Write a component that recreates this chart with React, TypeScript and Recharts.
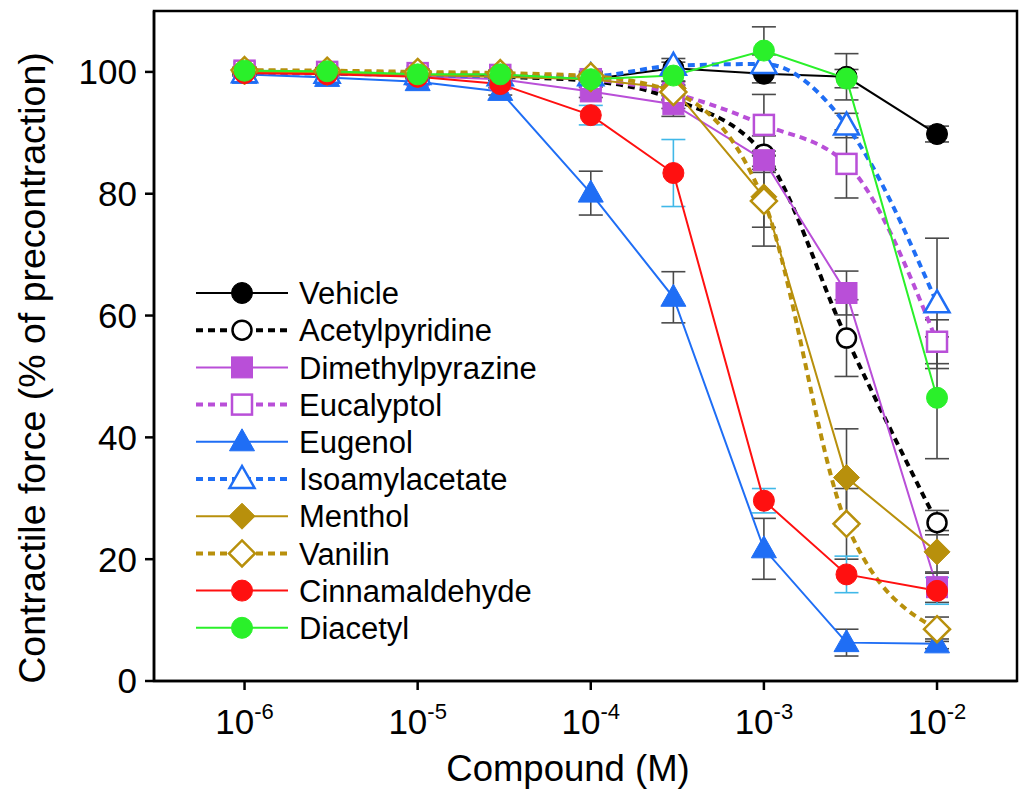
import { LineChart, Line, XAxis, YAxis, ErrorBar, Legend, ReferenceArea } from 'recharts'

// concentrations (M)
const concentrations = [1e-6, 3e-6, 1e-5, 3e-5, 1e-4, 3e-4, 1e-3, 3e-3, 1e-2]
const xTicks = [1e-6, 1e-5, 1e-4, 1e-3, 1e-2]
const yTicks = [0, 20, 40, 60, 80, 100]

// % of precontraction, mean and error per compound
const vehicle = [100, 99.8, 99.5, 99.3, 98.8, 100.6, 99.7, 99.2, 89.8]
const vehicleErr = [0.5, 0.5, 0.6, 0.6, 0.8, 1, 1.5, 3.8, 1.3]
const acetylpyridine = [100, 99.8, 99.6, 99.2, 98.5, 95.5, 86.5, 56.3, 26]
const acetylpyridineErr = [0.5, 0.5, 0.5, 0.6, 1, 1.5, 3, 6.3, 2]
const dimethylpyrazine = [100, 99.8, 99.3, 98.8, 96.8, 94.7, 85.5, 63.7, 15.4]
const dimethylpyrazineErr = [0.5, 0.5, 0.6, 0.8, 1, 2, 1.5, 3.6, 2.5]
const eucalyptol = [100.2, 100, 99.8, 99.5, 98.8, 96.5, 91.3, 84.9, 55.7]
const eucalyptolErr = [0.5, 0.5, 0.5, 0.6, 0.8, 1.2, 5, 5.6, 3.6]
const eugenol = [99.6, 99.1, 98.4, 96.8, 80.1, 63.0, 21.7, 6.3, 6.1]
const eugenolErr = [0.3, 0.4, 0.5, 0.6, 3.6, 4.2, 5, 2.2, 0.8]
const isoamylacetate = [99.8, 99.7, 99.5, 99.3, 99.3, 101.0, 101.3, 91.2, 62.0]
const isoamylacetateErr = [0.5, 0.5, 0.5, 0.6, 0.8, 1.2, 1.5, 2, 10.7]
const menthol = [100, 99.9, 99.5, 99.2, 98.8, 97.3, 79.5, 33.4, 21.2]
const mentholErr = [0.5, 0.5, 0.5, 0.6, 0.8, 1.2, 5, 8, 3.5]
const vanilin = [100.3, 100.2, 100, 99.8, 99.3, 96.7, 78.8, 25.8, 8.5]
const vanilinErr = [0.5, 0.5, 0.5, 0.5, 0.6, 1.2, 7.4, 5.8, 2]
const cinnamaldehyde = [99.8, 99.6, 99.2, 98.0, 92.9, 83.4, 29.6, 17.5, 14.8]
const cinnamaldehydeErr = [0.5, 0.5, 0.6, 0.8, 1.6, 5.5, 2, 3, 2.2]
const diacetyl = [100.2, 100.1, 99.6, 99.6, 98.8, 99.4, 103.5, 98.9, 46.5]
const diacetylErr = [0.5, 0.5, 0.5, 0.6, 0.8, 1, 3.9, 1.5, 10]

type Shape = 'circle' | 'square' | 'triangle' | 'diamond'

const SERIES: {
  key: string; name: string; color: string; shape: Shape; open: boolean; dashed: boolean
  values: number[]; err: number[]; errColor: string
}[] = [
  { key: 'vehicle', name: 'Vehicle', color: '#000000', shape: 'circle', open: false, dashed: false, values: vehicle, err: vehicleErr, errColor: '#4a4a4a' },
  { key: 'acetyl', name: 'Acetylpyridine', color: '#000000', shape: 'circle', open: true, dashed: true, values: acetylpyridine, err: acetylpyridineErr, errColor: '#4a4a4a' },
  { key: 'dimethyl', name: 'Dimethylpyrazine', color: '#b94fd8', shape: 'square', open: false, dashed: false, values: dimethylpyrazine, err: dimethylpyrazineErr, errColor: '#4a4a4a' },
  { key: 'eucalyptol', name: 'Eucalyptol', color: '#b94fd8', shape: 'square', open: true, dashed: true, values: eucalyptol, err: eucalyptolErr, errColor: '#4a4a4a' },
  { key: 'eugenol', name: 'Eugenol', color: '#1f6ef5', shape: 'triangle', open: false, dashed: false, values: eugenol, err: eugenolErr, errColor: '#4a4a4a' },
  { key: 'isoamyl', name: 'Isoamylacetate', color: '#1f6ef5', shape: 'triangle', open: true, dashed: true, values: isoamylacetate, err: isoamylacetateErr, errColor: '#4a4a4a' },
  { key: 'menthol', name: 'Menthol', color: '#b8900c', shape: 'diamond', open: false, dashed: false, values: menthol, err: mentholErr, errColor: '#4a4a4a' },
  { key: 'vanilin', name: 'Vanilin', color: '#b8900c', shape: 'diamond', open: true, dashed: true, values: vanilin, err: vanilinErr, errColor: '#4a4a4a' },
  { key: 'cinnam', name: 'Cinnamaldehyde', color: '#ff1010', shape: 'circle', open: false, dashed: false, values: cinnamaldehyde, err: cinnamaldehydeErr, errColor: '#40b8e8' },
  { key: 'diacetyl', name: 'Diacetyl', color: '#2af02a', shape: 'circle', open: false, dashed: false, values: diacetyl, err: diacetylErr, errColor: '#4a4a4a' },
]

const data = concentrations.map((c, i) => {
  const row: Record<string, number> = { conc: c }
  SERIES.forEach((s) => {
    row[s.key] = s.values[i]
    row[s.key + 'Err'] = s.err[i]
  })
  return row
})

const FONT = '"Liberation Sans", Arial, Helvetica, sans-serif'
const X_MIN = Math.pow(10, -6.523)
const X_MAX = Math.pow(10, -1.538)

function Marker({ cx, cy, shape, color, open }: { cx: number; cy: number; shape: Shape; color: string; open: boolean }) {
  const fill = open ? '#ffffff' : color
  const sw = open ? 2.5 : 1
  if (shape === 'circle') return <circle cx={cx} cy={cy} r={open ? 9.5 : 10.5} fill={fill} stroke={color} strokeWidth={sw} />
  if (shape === 'square') {
    const h = open ? 10 : 10.5
    return <rect x={cx - h} y={cy - h} width={h * 2} height={h * 2} fill={fill} stroke={color} strokeWidth={sw} />
  }
  if (shape === 'triangle') {
    const pts = `${cx},${cy - 13} ${cx - 12.5},${cy + 9} ${cx + 12.5},${cy + 9}`
    return <polygon points={pts} fill={fill} stroke={color} strokeWidth={sw} strokeLinejoin="miter" />
  }
  const d = 13
  const pts = `${cx},${cy - d} ${cx + d},${cy} ${cx},${cy + d} ${cx - d},${cy}`
  return <polygon points={pts} fill={fill} stroke={color} strokeWidth={sw} />
}

function XTick({ x, y, payload }: any) {
  const exp = Math.round(Math.log10(payload.value))
  return (
    <text x={x} y={y + 44} textAnchor="middle" fontFamily={FONT} fontSize={35} fill="#000">
      <tspan>10</tspan>
      <tspan fontSize={22} dy={-15}>{exp}</tspan>
    </text>
  )
}

function LegendBox() {
  return (
    <svg width={370} height={375} style={{ overflow: 'visible' }}>
      {SERIES.map((s, i) => {
        const y = 21 + i * 37.2
        return (
          <g key={s.key}>
            <line
              x1={6} x2={98} y1={y} y2={y}
              stroke={s.color}
              strokeWidth={s.dashed ? 4 : 2}
              strokeDasharray={s.dashed ? '7 5' : undefined}
            />
            <Marker cx={52} cy={y} shape={s.shape} color={s.color} open={s.open} />
            <text x={109} y={y} dy="0.36em" fontFamily={FONT} fontSize={31} fill="#000">{s.name}</text>
          </g>
        )
      })}
    </svg>
  )
}

export default function App() {
  return (
    <div style={{ position: 'absolute', left: 0, top: 0, background: '#fff' }}>
      <LineChart width={1021} height={790} data={data} margin={{ top: 11, right: 4, left: 0, bottom: 0 }}>
        <XAxis
          dataKey="conc"
          type="number"
          scale="log"
          domain={[X_MIN, X_MAX]}
          allowDataOverflow
          ticks={xTicks}
          tick={<XTick />}
          tickSize={9}
          tickMargin={0}
          height={109}
          axisLine={{ stroke: '#000', strokeWidth: 2.5 }}
          tickLine={{ stroke: '#000', strokeWidth: 2.5 }}
          label={() => (
            <text x={568} y={781} textAnchor="middle" fontFamily={FONT} fontSize={36.5} fill="#000">
              Compound (M)
            </text>
          )}
        />
        <YAxis
          type="number"
          domain={[0, 110]}
          ticks={yTicks}
          width={154}
          tickSize={9}
          tickMargin={8}
          tick={{ fill: '#000', fontSize: 35, fontFamily: FONT }}
          axisLine={{ stroke: '#000', strokeWidth: 2.5 }}
          tickLine={{ stroke: '#000', strokeWidth: 2.5 }}
          label={() => (
            <text
              x={45} y={368}
              transform="rotate(-90, 45, 368)"
              textAnchor="middle"
              fontFamily={FONT}
              fontSize={37.5}
              fill="#000"
            >
              Contractile force (% of precontraction)
            </text>
          )}
        />
        <ReferenceArea x1={X_MIN} x2={X_MAX} y1={0} y2={110} fill="none" stroke="#000" strokeWidth={2.5} />
        {SERIES.map((s) => (
          <Line
            key={s.key}
            dataKey={s.key}
            name={s.name}
            type={s.dashed ? 'monotone' : 'linear'}
            stroke={s.color}
            strokeWidth={s.dashed ? 4 : 2}
            strokeDasharray={s.dashed ? '7 5' : undefined}
            isAnimationActive={false}
            activeDot={false}
            dot={(p: any) => (
              <Marker key={`${s.key}-${p.index}`} cx={p.cx} cy={p.cy} shape={s.shape} color={s.color} open={s.open} />
            )}
          >
            <ErrorBar dataKey={s.key + 'Err'} width={12} stroke={s.errColor} strokeWidth={1.6} direction="y" />
          </Line>
        ))}
        <Legend
          layout="vertical"
          align="center"
          verticalAlign="middle"
          content={() => <LegendBox />}
          wrapperStyle={{ left: 190, top: 272, width: 370, height: 375 }}
        />
      </LineChart>
    </div>
  )
}
